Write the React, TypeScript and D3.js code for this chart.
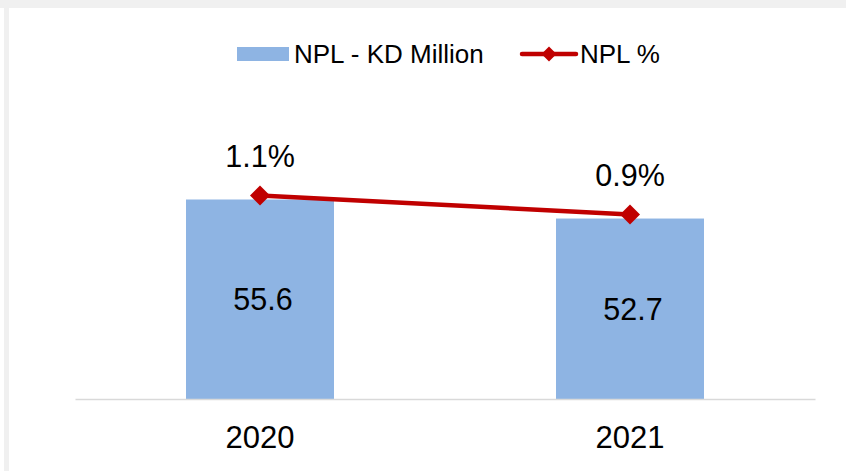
import React, { useEffect, useRef } from 'react';
import * as d3 from 'd3';

// NPL chart: bars for KD million, red line for NPL %
const years = ['2020', '2021'];
const nplKd = [55.6, 52.7];
const nplPct = [1.1, 0.9];
const legendLabels = ['NPL - KD Million', 'NPL %'];

const W = 846;
const H = 471;
const FONT = '"Liberation Sans", Arial, sans-serif';
const BAR_COLOR = '#8eb4e3';
const LINE_COLOR = '#c00000';

const App = () => {
    const ref = useRef<SVGSVGElement | null>(null);

    useEffect(() => {
        document.body.style.margin = '0';
        if (!ref.current) return;
        const svg = d3.select(ref.current);
        svg.selectAll('*').remove();

        // panel background with the grey frame at top / left
        svg.append('rect').attr('width', W).attr('height', H).attr('fill', '#ffffff');
        svg.append('rect').attr('x', 0).attr('y', 0).attr('width', W).attr('height', 8).attr('fill', '#f0f0f0');
        svg.append('rect').attr('x', 4).attr('y', 0).attr('width', 5).attr('height', H).attr('fill', '#f0f0f0');

        const x = d3.scaleBand<string>()
            .domain(years)
            .range([75, 815])
            .paddingInner(0.6)
            .paddingOuter(0.3);

        // primary axis (hidden) for the bars
        const y = d3.scaleLinear().domain([25.2, 70]).range([399, 105]);
        // secondary axis (hidden) for the percentage line
        const y2 = d3.scaleLinear().domain([0, 2]).range([300, 110]);

        const cx = (d: string) => (x(d) as number) + x.bandwidth() / 2;

        // bars
        svg.append('g')
            .selectAll('rect')
            .data(years)
            .enter()
            .append('rect')
            .attr('x', d => x(d) as number)
            .attr('y', (d, i) => y(nplKd[i]))
            .attr('width', x.bandwidth())
            .attr('height', (d, i) => y.range()[0] - y(nplKd[i]))
            .attr('fill', BAR_COLOR);

        // bar value labels
        svg.append('g')
            .selectAll('text')
            .data(years)
            .enter()
            .append('text')
            .attr('x', d => cx(d) + 3)
            .attr('y', (d, i) => (y(nplKd[i]) + y.range()[0]) / 2 + 11)
            .attr('text-anchor', 'middle')
            .attr('fill', '#000')
            .style('font-size', '30.5px')
            .style('font-family', FONT)
            .text((d, i) => nplKd[i].toFixed(1));

        // x axis baseline
        const axis = svg.append('g')
            .attr('transform', `translate(0,${y.range()[0]})`)
            .call(d3.axisBottom(x).tickSize(0).tickPadding(20));
        axis.select('.domain').attr('stroke', '#d9d9d9').attr('stroke-width', 1.5);
        axis.selectAll('text')
            .attr('fill', '#000')
            .attr('dy', '0.93em')
            .style('font-size', '31px')
            .style('font-family', FONT);

        // percentage line
        const line = d3.line<string>()
            .x(d => cx(d))
            .y((d, i) => y2(nplPct[i]));
        svg.append('path')
            .datum(years)
            .attr('d', line)
            .attr('fill', 'none')
            .attr('stroke', LINE_COLOR)
            .attr('stroke-width', 4.5)
            .attr('stroke-linecap', 'round');

        const diamond = (r: number) => `M0,${-r}L${r},0L0,${r}L${-r},0Z`;
        svg.append('g')
            .selectAll('path')
            .data(years)
            .enter()
            .append('path')
            .attr('transform', (d, i) => `translate(${cx(d)},${y2(nplPct[i])})`)
            .attr('d', diamond(10))
            .attr('fill', LINE_COLOR);

        svg.append('g')
            .selectAll('text')
            .data(years)
            .enter()
            .append('text')
            .attr('x', d => cx(d))
            .attr('y', (d, i) => y2(nplPct[i]) - 29)
            .attr('text-anchor', 'middle')
            .attr('fill', '#000')
            .style('font-size', '30.5px')
            .style('font-family', FONT)
            .text((d, i) => `${nplPct[i].toFixed(1)}%`);

        // legend
        const lg = svg.append('g');
        lg.append('rect')
            .attr('x', 237).attr('y', 47)
            .attr('width', 52).attr('height', 14)
            .attr('fill', BAR_COLOR);
        lg.append('text')
            .attr('x', 294).attr('y', 63)
            .attr('fill', '#000')
            .style('font-size', '26px')
            .style('font-family', FONT)
            .text(legendLabels[0]);
        lg.append('line')
            .attr('x1', 522).attr('x2', 576)
            .attr('y1', 54).attr('y2', 54)
            .attr('stroke', LINE_COLOR)
            .attr('stroke-width', 4.5)
            .attr('stroke-linecap', 'round');
        lg.append('path')
            .attr('transform', 'translate(549,54)')
            .attr('d', diamond(7.5))
            .attr('fill', LINE_COLOR);
        lg.append('text')
            .attr('x', 580).attr('y', 63)
            .attr('fill', '#000')
            .style('font-size', '26px')
            .style('font-family', FONT)
            .text(legendLabels[1]);
    }, []);

    return <svg ref={ref} width={W} height={H} style={{ display: 'block' }} />;
};

export default App;
